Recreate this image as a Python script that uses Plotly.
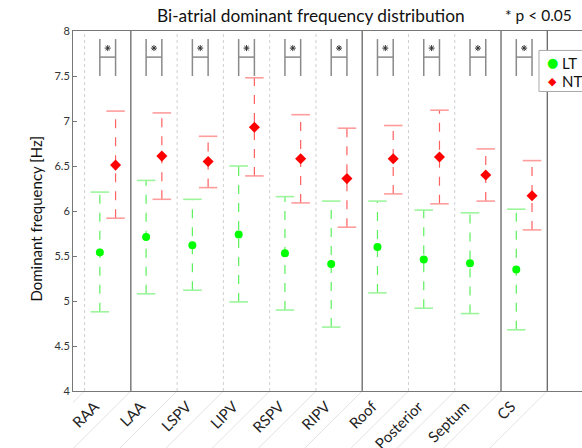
import plotly.graph_objects as go

categories = ["RAA", "LAA", "LSPV", "LIPV", "RSPV", "RIPV", "Roof", "Posterior", "Septum", "CS"]
lt_mean = [5.54, 5.71, 5.62, 5.74, 5.53, 5.41, 5.60, 5.46, 5.42, 5.35]
lt_upper = [6.21, 6.34, 6.13, 6.50, 6.16, 6.11, 6.11, 6.01, 5.98, 6.02]
lt_lower = [4.88, 5.08, 5.12, 4.99, 4.90, 4.71, 5.09, 4.92, 4.86, 4.68]
nt_mean = [6.51, 6.61, 6.55, 6.93, 6.58, 6.36, 6.58, 6.60, 6.40, 6.17]
nt_upper = [7.11, 7.09, 6.83, 7.48, 7.07, 6.92, 6.95, 7.12, 6.69, 6.56]
nt_lower = [5.92, 6.13, 6.26, 6.39, 6.09, 5.82, 6.19, 6.08, 6.11, 5.79]
significant = [True] * 10
y_ticks = [4, 4.5, 5, 5.5, 6, 6.5, 7, 7.5, 8]
y_tick_labels = ["4", "4.5", "5", "5.5", "6", "6.5", "7", "7.5", "8"]
solid_boundaries = [1.5, 6.5, 9.5, 10.5]
dotted_boundaries = [0.5, 2.5, 3.5, 4.5, 5.5, 7.5, 8.5]
bracket_low, bracket_high, bracket_mid, star_y = 7.5, 7.91, 7.71, 7.81
legend_names = ["LT", "NT"]

idx = list(range(1, len(categories) + 1))
off = 0.17
cap = 0.2
x_lt = [i - off for i in idx]
x_nt = [i + off for i in idx]

fig = go.Figure()


def seg_vert(xs, lo, hi):
    X, Y = [], []
    for x, a, b in zip(xs, lo, hi):
        X += [x, x, None]
        Y += [a, b, None]
    return X, Y


def seg_caps(xs, vals):
    X, Y = [], []
    for x, v in zip(xs, vals):
        X += [x - cap, x + cap, None]
        Y += [v, v, None]
    return X, Y


for xs, lo, hi, vcol, ccol in [
    (x_lt, lt_lower, lt_upper, "#5cf05c", "#9cf59c"),
    (x_nt, nt_lower, nt_upper, "#ff6060", "#ff9c9c"),
]:
    X, Y = seg_vert(xs, lo, hi)
    fig.add_trace(go.Scatter(x=X, y=Y, mode="lines", line=dict(color=vcol, width=1.2, dash="dash"),
                             showlegend=False, hoverinfo="skip"))
    X, Y = seg_caps(xs, lo)
    X2, Y2 = seg_caps(xs, hi)
    fig.add_trace(go.Scatter(x=X + X2, y=Y + Y2, mode="lines", line=dict(color=ccol, width=1.6),
                             showlegend=False, hoverinfo="skip"))

# significance brackets
bx, by = [], []
sx, sy = [], []
for i, s in zip(idx, significant):
    if not s:
        continue
    bx += [i - off, i - off, None, i + off, i + off, None, i - off, i + off, None]
    by += [bracket_low, bracket_high, None, bracket_low, bracket_high, None, bracket_mid, bracket_mid, None]
    sx.append(i)
    sy.append(star_y)
fig.add_trace(go.Scatter(x=bx, y=by, mode="lines", line=dict(color="#8a8a8a", width=1.5),
                         showlegend=False, hoverinfo="skip"))
fig.add_trace(go.Scatter(x=sx, y=sy, mode="markers",
                         marker=dict(symbol="asterisk-open", size=5, color="#333333",
                                     line=dict(color="#333333", width=1)),
                         showlegend=False, hoverinfo="skip"))

fig.add_trace(go.Scatter(x=x_lt, y=lt_mean, mode="markers", name=legend_names[0],
                         marker=dict(symbol="circle", size=8, color="#00ff00"), showlegend=False))
fig.add_trace(go.Scatter(x=x_nt, y=nt_mean, mode="markers", name=legend_names[1],
                         marker=dict(symbol="diamond", size=8.5, color="#ff0000"), showlegend=False))

shapes = []
for b in solid_boundaries:
    shapes.append(dict(type="line", xref="x", yref="paper", x0=b, x1=b, y0=0, y1=1,
                       line=dict(color="#666666", width=1.3), layer="below"))
for b in dotted_boundaries:
    shapes.append(dict(type="line", xref="x", yref="paper", x0=b, x1=b, y0=0, y1=1,
                       line=dict(color="#d0d0d0", width=1, dash="dot"), layer="below"))
for b in solid_boundaries + dotted_boundaries:
    shapes.append(dict(type="line", xref="x", yref="paper", x0=b, x1=b - 1.25, y0=0, y1=-0.16,
                       line=dict(color="#e3e3e3", width=1), layer="below"))

# legend box (drawn manually to match the original placement)
shapes.append(dict(type="rect", xref="paper", yref="paper", x0=0.9155, x1=1.06, y0=0.832, y1=0.946,
                   fillcolor="white", line=dict(color="#a8a8a8", width=1), layer="above"))

font_family = "Lato, 'Open Sans', sans-serif"

annotations = [
    dict(text="Bi-atrial dominant frequency distribution", xref="paper", yref="paper",
         x=0.4676, y=1.044, xanchor="center", yanchor="middle", showarrow=False,
         font=dict(size=17.3, color="#111111")),
    dict(text="* p < 0.05", xref="paper", yref="paper", x=0.9155, y=1.044,
         xanchor="center", yanchor="middle", showarrow=False,
         font=dict(size=15.5, color="#111111")),
    dict(text="Dominant frequency [Hz]", xref="paper", yref="paper", x=-0.0727, y=0.479,
         xanchor="center", yanchor="middle", textangle=-90, showarrow=False,
         font=dict(size=15, color="#111111")),
    # legend entries
    dict(text="●", xref="paper", yref="paper", x=0.942, y=0.912, xanchor="center", yanchor="middle",
         showarrow=False, font=dict(family="DejaVu Sans", size=13, color="#00ff00")),
    dict(text="◆", xref="paper", yref="paper", x=0.942, y=0.860, xanchor="center", yanchor="middle",
         showarrow=False, font=dict(family="DejaVu Sans", size=11, color="#ff0000")),
    dict(text=legend_names[0], xref="paper", yref="paper", x=0.957, y=0.912, xanchor="left",
         yanchor="middle", showarrow=False, font=dict(size=15, color="#111111")),
    dict(text=legend_names[1], xref="paper", yref="paper", x=0.957, y=0.860, xanchor="left",
         yanchor="middle", showarrow=False, font=dict(size=15, color="#111111")),
]

fig.update_layout(
    width=582, height=448,
    margin=dict(l=73, r=0, t=31, b=57, autoexpand=False),
    paper_bgcolor="white", plot_bgcolor="white",
    font=dict(family=font_family, color="#222222"),
    shapes=shapes,
    showlegend=False,
    xaxis=dict(range=[0.25, 11.25], tickvals=idx, ticktext=categories, tickangle=-45,
               showgrid=False, zeroline=False, showline=True, linecolor="#777777", linewidth=1,
               mirror=True, ticks="", tickfont=dict(size=15, color="#222222"),
               ticklabelshift=-13, automargin=False),
    yaxis=dict(range=[4, 8], tickvals=y_ticks, ticktext=y_tick_labels, showgrid=False,
               zeroline=False, showline=True, linecolor="#777777", linewidth=1,
               ticks="inside", ticklen=4, tickcolor="#777777",
               tickfont=dict(size=11, color="#333333"), automargin=False),
    annotations=annotations,
)

fig.write_html("out.html", config={"displayModeBar": False},
               post_script="document.body.style.margin='0px';document.body.style.overflow='hidden';")
